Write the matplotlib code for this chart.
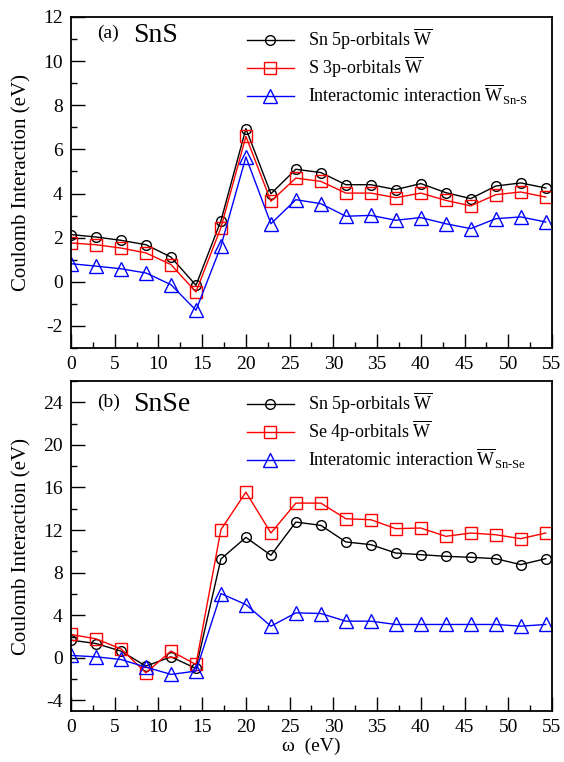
import matplotlib
matplotlib.use("Agg")
import matplotlib.pyplot as plt
from matplotlib.ticker import MultipleLocator

plt.rcParams["font.family"] = ["Liberation Serif", "DejaVu Serif"]
plt.rcParams["mathtext.fontset"] = "custom"
plt.rcParams["mathtext.rm"] = "Liberation Serif"
plt.rcParams["mathtext.it"] = "Liberation Serif:italic"
plt.rcParams["axes.unicode_minus"] = False

omega = [0, 2.86, 5.71, 8.57, 11.43, 14.29, 17.14, 20.0, 22.86, 25.71,
         28.57, 31.43, 34.29, 37.14, 40.0, 42.86, 45.71, 48.57, 51.43, 54.29]

# (a) SnS
sns_sn5p = [2.14, 2.03, 1.88, 1.68, 1.12, -0.16, 2.76, 6.94, 3.99, 5.10,
            4.95, 4.40, 4.40, 4.18, 4.45, 4.04, 3.77, 4.34, 4.48, 4.25]
sns_s3p = [1.76, 1.68, 1.53, 1.31, 0.78, -0.46, 2.45, 6.59, 3.65, 4.70,
           4.55, 4.02, 4.02, 3.81, 4.02, 3.69, 3.44, 3.95, 4.07, 3.84]
sns_inter = [0.82, 0.71, 0.59, 0.40, -0.13, -1.29, 1.61, 5.66, 2.63, 3.72,
             3.54, 2.97, 3.01, 2.79, 2.91, 2.63, 2.41, 2.86, 2.94, 2.71]

# (b) SnSe
snse_sn5p = [1.66, 1.34, 0.63, -0.78, 0.09, -1.00, 9.28, 11.31, 9.63, 12.75,
             12.44, 10.88, 10.63, 9.84, 9.69, 9.53, 9.44, 9.31, 8.75, 9.31]
snse_se4p = [2.19, 1.78, 0.84, -1.41, 0.63, -0.63, 12.03, 15.56, 11.72, 14.53,
             14.53, 13.06, 12.97, 12.13, 12.19, 11.41, 11.72, 11.56, 11.19, 11.72]
snse_inter = [0.22, 0.09, -0.16, -0.88, -1.56, -1.25, 6.03, 5.00, 2.97, 4.22,
              4.16, 3.44, 3.44, 3.13, 3.13, 3.13, 3.13, 3.13, 2.97, 3.13]

W = r"$\overline{\mathrm{W}}$"

panels = [
    ("(a)", "SnS", 0.95, sns_sn5p, sns_s3p, sns_inter,
     ["Sn 5p-orbitals " + W, "S 3p-orbitals " + W,
      r"Interactomic interaction $\overline{\mathrm{W}}_{\mathrm{Sn}\text{-}\mathrm{S}}$"],
     (-3, 12), 2, 1),
    ("(b)", "SnSe", 0.935, snse_sn5p, snse_se4p, snse_inter,
     ["Sn 5p-orbitals " + W, "Se 4p-orbitals " + W,
      r"Interatomic interaction $\overline{\mathrm{W}}_{\mathrm{Sn}\text{-}\mathrm{Se}}$"],
     (-5, 26), 4, 2),
]

fig = plt.figure(figsize=(5.64, 7.62), dpi=100)
rects = [[0.1259, 0.5433, 0.8528, 0.4344], [0.1259, 0.0669, 0.8528, 0.4331]]

for rect, (tag, name, ty, a, b, c, labels, ylim, major, minor) in zip(rects, panels):
    ax = fig.add_axes(rect)
    ax.plot(omega, a, "-o", color="black", lw=1.0, ms=7, mfc="none", mew=1.0, label=labels[0])
    ax.plot(omega, b, "-s", color="red", lw=1.0, ms=8.5, mfc="none", mew=1.0, label=labels[1])
    ax.plot(omega, c, "-^", color="blue", lw=1.0, ms=10, mfc="none", mew=1.0, label=labels[2])
    ax.set_xlim(0, 55)
    ax.set_ylim(*ylim)
    ax.xaxis.set_major_locator(MultipleLocator(5))
    ax.xaxis.set_minor_locator(MultipleLocator(2.5))
    ax.yaxis.set_major_locator(MultipleLocator(major))
    ax.yaxis.set_minor_locator(MultipleLocator(minor))
    ax.tick_params(which="both", direction="in", labelsize=14, top=False, right=False, pad=6)
    ax.tick_params(which="major", length=10, width=1)
    ax.tick_params(which="minor", length=4.5, width=1)
    for s in ax.spines.values():
        s.set_linewidth(1.3)
    ax.set_ylabel("Coulomb Interaction (eV)", fontsize=15, labelpad=8)
    ax.text(0.055, ty, tag, transform=ax.transAxes, fontsize=14, va="center")
    ax.text(0.13, ty - 0.005, name, transform=ax.transAxes, fontsize=20, va="center")
    ax.legend(loc="upper left", bbox_to_anchor=(0.35, 0.993), frameon=False,
              fontsize=13, handlelength=2.6, handletextpad=0.8, labelspacing=0.15,
              borderaxespad=0)

ax.set_xlabel(r"ω  (eV)", fontsize=14, labelpad=1)

fig.savefig("out.png", dpi=100)
